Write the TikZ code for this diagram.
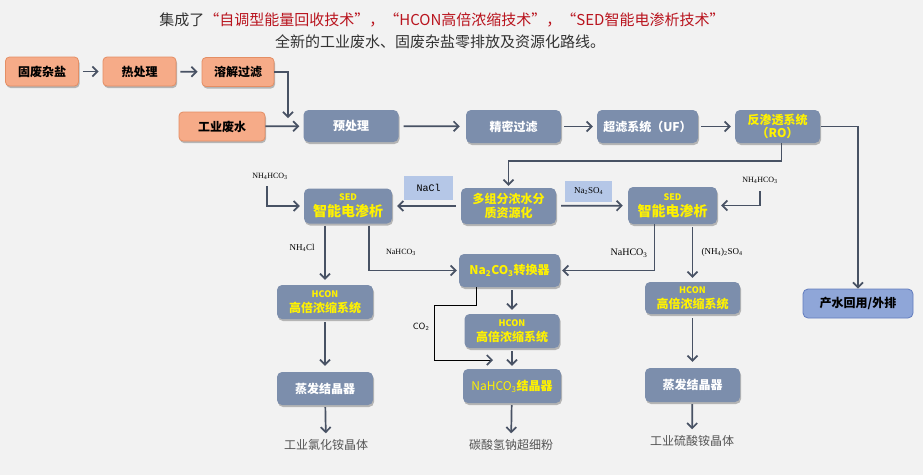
\documentclass[tikz,border=0pt]{standalone}
\usepackage{fontspec}
\newfontfamily\cjk{Noto Sans CJK SC}
\newfontfamily\chemfont{Liberation Serif}
\newfontfamily\typefont{Liberation Mono}
\usetikzlibrary{arrows.meta,shadows}

\definecolor{paper}{RGB}{242,242,242}
\definecolor{slate}{RGB}{124,142,172}
\definecolor{peach}{RGB}{246,171,136}
\definecolor{peachline}{RGB}{228,142,100}
\definecolor{arrowgray}{RGB}{72,82,100}
\definecolor{tagblue}{RGB}{181,199,231}
\definecolor{outblue}{RGB}{143,166,216}
\definecolor{outline}{RGB}{98,124,190}
\definecolor{titlered}{RGB}{185,20,30}
\definecolor{prodgray}{RGB}{85,85,85}

\begin{document}
\begin{tikzpicture}[x=1pt,y=-1pt,
  softshadow/.style={drop shadow={shadow xshift=1pt,shadow yshift=-2pt,opacity=0.25,fill=black}},
  orangebox/.style={rectangle,rounded corners=4pt,fill=peach,draw=peachline,line width=0.8pt,
    minimum width=73pt,minimum height=29pt,inner sep=0pt,softshadow,
    font=\cjk\bfseries\fontsize{12}{14}\selectfont},
  slatebox/.style={rectangle,rounded corners=5pt,fill=slate,minimum width=95pt,minimum height=33pt,
    inner sep=0pt,softshadow,align=center,text=white,
    font=\cjk\bfseries\fontsize{12}{14}\selectfont},
  hot/.style={text=yellow},
  outbox/.style={rectangle,rounded corners=5pt,fill=outblue,draw=outline,line width=0.8pt,
    minimum width=110pt,minimum height=29pt,inner sep=0pt,
    font=\cjk\bfseries\fontsize{12}{14}\selectfont},
  tagbox/.style={rectangle,fill=tagblue,inner sep=0pt,font=\chemfont\fontsize{9}{10}\selectfont},
  chem/.style={inner sep=0pt,font=\chemfont\fontsize{8}{9}\selectfont},
  product/.style={inner sep=0pt,text=prodgray,font=\cjk\fontsize{12}{14}\selectfont},
  flow/.style={draw=arrowgray,line width=1.7pt,-{Straight Barb[length=5pt,width=10pt]}},
  gasline/.style={draw=black,line width=0.7pt,-{Straight Barb[length=5pt,width=10pt,color=arrowgray,line width=1.7pt]}}]

\fill[paper] (0,0) rectangle (923,475);
\useasboundingbox (0,0) rectangle (923,475);

% heading
\node[font=\cjk\fontsize{15}{18}\selectfont,text=black!80] (head) at (442,20)
  {集成了\textcolor{titlered}{“自调型能量回收技术”，“HCON高倍浓缩技术”，“SED智能电渗析技术”}};
\node[font=\cjk\fontsize{15}{18}\selectfont,text=black!80] (sub) at (440,42)
  {全新的工业废水、固废杂盐零排放及资源化路线。};

% feed side
\node[orangebox] (salt) at (42,71.5) {固废杂盐};
\node[orangebox] (heat) at (139.5,71.5) {热处理};
\node[orangebox,minimum width=72pt] (dissolve) at (238,72) {溶解过滤};
\node[orangebox,minimum width=86pt] (water) at (222,126.5) {工业废水};
\coordinate (join) at (288,118);

% main line
\node[slatebox,minimum height=32pt] (pre) at (351,126) {预处理};
\node[slatebox] (fine) at (513.5,126.5) {精密过滤};
\node[slatebox,minimum width=101pt] (uf) at (647.5,126.5) {超滤系统（UF）};
\node[slatebox,hot,minimum width=85pt] (ro) at (777.5,126.5) {反渗透系统\\[-1pt]（RO）};
\node[outbox] (reuse) at (858,303.5) {产水回用/外排};

% concentrate treatment
\node[slatebox,hot,minimum height=36pt] (multi) at (508.5,206) {多组分浓水分\\[0pt]质资源化};
\node[slatebox,hot,minimum width=88pt,minimum height=35pt] (sedL) at (348,206)
  {{\fontsize{9}{10}\selectfont SED}\\[2pt]{\fontsize{14}{16}\selectfont 智能电渗析}};
\node[slatebox,hot,minimum width=89pt,minimum height=37pt] (sedR) at (672.5,205.5)
  {{\fontsize{9}{10}\selectfont SED}\\[2pt]{\fontsize{14}{16}\selectfont 智能电渗析}};
\node[tagbox,minimum width=49pt,minimum height=24pt,font=\typefont\fontsize{10}{11}\selectfont] (nacl) at (428.5,188) {NaCl};
\node[tagbox,minimum width=47pt,minimum height=21pt] (naso) at (588.5,191.5) {Na\textsubscript{2}SO\textsubscript{4}};
\node[chem] (nhL) at (270,176) {NH\textsubscript{4}HCO\textsubscript{3}};
\node[chem] (nhR) at (760,180) {NH\textsubscript{4}HCO\textsubscript{3}};
\node[chem,font=\chemfont\fontsize{9}{10}\selectfont] (nhcl) at (302,248) {NH\textsubscript{4}Cl};
\node[chem] (bicL) at (401,252) {NaHCO\textsubscript{3}};
\node[chem,font=\chemfont\fontsize{10}{11}\selectfont] (bicR) at (629,253) {NaHCO\textsubscript{3}};
\node[chem,font=\chemfont\fontsize{9}{10}\selectfont] (amsulf) at (722,252) {(NH\textsubscript{4})\textsubscript{2}SO\textsubscript{4}};

% three product columns
\node[slatebox,hot,minimum width=101pt] (conv) at (509.5,270.5) {Na\textsubscript{2}CO\textsubscript{3}转换器};
\node[slatebox,hot,minimum width=96pt,minimum height=34pt] (hconL) at (325,302)
  {{\fontsize{9}{10}\selectfont HCON}\\[1pt]高倍浓缩系统};
\node[slatebox,minimum width=96pt] (evapL) at (325,388.5) {蒸发结晶器};
\node[product] (prodL) at (326,445) {工业氯化铵晶体};
\node[slatebox,hot,minimum height=34pt] (hconM) at (512,331)
  {{\fontsize{9}{10}\selectfont HCON}\\[1pt]高倍浓缩系统};
\node[slatebox,hot,minimum width=98pt,minimum height=34pt] (crystM) at (512,386)
  {{\cjk\mdseries NaHCO\textsubscript{3}}结晶器};
\node[product] (prodM) at (511,445) {碳酸氢钠超细粉};
\node[slatebox,hot,minimum height=32pt] (hconR) at (692.5,298)
  {{\fontsize{9}{10}\selectfont HCON}\\[1pt]高倍浓缩系统};
\node[slatebox,minimum height=34pt] (evapR) at (692.5,385) {蒸发结晶器};
\node[product] (prodR) at (692,441) {工业硫酸铵晶体};
\node[inner sep=0pt,font=\fontsize{9}{10}\selectfont\sffamily] (co2) at (421,327) {CO\textsubscript{2}};
\coordinate (co2turn) at (434,305);
\coordinate (co2end) at (493,360);

% connectors
\draw[flow,shorten <=4pt,shorten >=4pt] (salt) -- (heat);
\draw[flow,shorten <=4pt,shorten >=4pt] (heat) -- (dissolve);
\draw[flow] (dissolve.east) -| (join);
\draw[flow,shorten >=4pt] (water) -- (pre);
\draw[flow,shorten <=5pt,shorten >=6pt] (pre) -- (fine);
\draw[flow,shorten <=3pt,shorten >=4pt] (fine) -- (uf);
\draw[flow,shorten <=3pt,shorten >=4pt] (uf) -- (ro);
\draw[flow,shorten <=1pt] (ro.east) -| (reuse.north);
\draw[flow,shorten >=2pt] ([xshift=4pt]ro.south) -- ++(0,18) -| (multi.north);
\draw[flow,shorten <=5pt,shorten >=5pt] (multi) -- (sedL);
\draw[flow,shorten <=5pt,shorten >=5pt] (multi) -- (sedR);
\draw[flow,shorten <=7pt,shorten >=4pt] ([xshift=-3pt]nhL.south) |- (sedL.west);
\draw[flow,shorten <=8pt,shorten >=4pt] (nhR.south) |- (sedR.east);
\draw[flow,shorten <=2pt,shorten >=5pt] (sedL.south -| hconL.north) -- (hconL.north);
\draw[flow,shorten <=2pt,shorten >=2pt] ([xshift=21pt]sedL.south) |- (conv.west);
\draw[flow,shorten >=2pt] ([xshift=-18pt]sedR.south) |- (conv.east);
\draw[flow,shorten <=3pt,shorten >=4pt] (sedR.south -| hconR.north) -- (hconR.north);
\draw[flow,shorten <=3pt,shorten >=6pt] (hconL) -- (evapL);
\draw[flow,shorten <=2pt,shorten >=6pt] (evapL) -- (prodL);
\draw[flow,shorten <=3pt,shorten >=4pt] (conv.south -| hconM.north) -- (hconM.north);
\draw[flow,shorten <=3pt,shorten >=3pt] (hconM) -- (crystM);
\draw[flow,shorten <=2pt,shorten >=6pt] (crystM) -- (prodM);
\draw[flow,shorten <=4pt,shorten >=6pt] (hconR) -- (evapR);
\draw[flow,shorten <=2pt,shorten >=6pt] (evapR) -- (prodR);
\draw[gasline] ([xshift=-33pt]conv.south) |- (co2turn) |- (co2end);
\end{tikzpicture}
\end{document}
